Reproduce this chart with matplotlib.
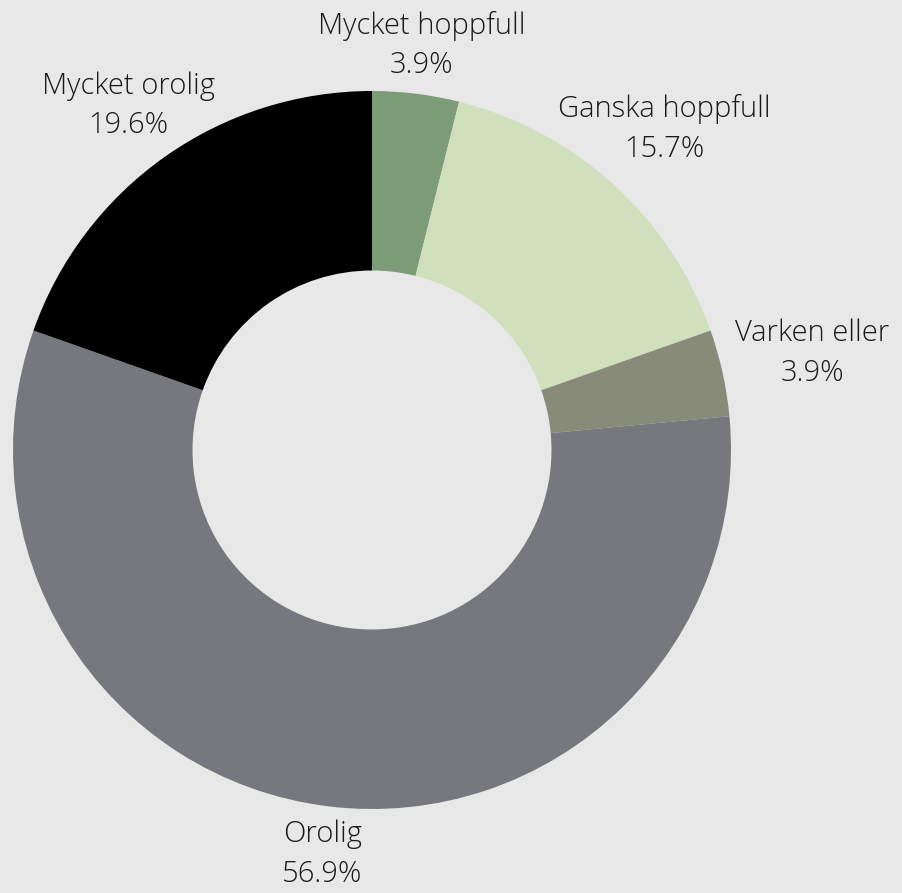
import numpy as np
import matplotlib.pyplot as plt

labels = ["Mycket hoppfull", "Ganska hoppfull", "Varken eller", "Orolig", "Mycket orolig"]
values = [3.9, 15.7, 3.9, 56.9, 19.6]
colors = ["#7c9c78", "#d0e0bc", "#878b78", "#76787d", "#000000"]
label_r = [1.135, 1.21, 1.255, 1.135, 1.175]

plt.rcParams['font.family'] = ['Open Sans', 'DejaVu Sans']

fig = plt.figure(figsize=(9.02, 8.93), dpi=100, facecolor="#e8e8e8")
ax = fig.add_axes([0, 0, 1, 1])
ax.set_facecolor("#e8e8e8")

wedges, _ = ax.pie(values, colors=colors, startangle=90, counterclock=False,
                   radius=1, wedgeprops=dict(width=0.5, linewidth=0))

for w, lab, v, r in zip(wedges, labels, values, label_r):
    ang = np.deg2rad((w.theta1 + w.theta2) / 2)
    ax.text(r * np.cos(ang), r * np.sin(ang), f"{lab}\n{v:.1f}%",
            ha="center", va="center", fontsize=21, linespacing=1.45,
            color="#1a1a1a", fontweight="light")

ax.set_xlim(-372 / 359, (902 - 372) / 359)
ax.set_ylim(-(893 - 450) / 359, 450 / 359)
ax.set_aspect("auto")
ax.axis("off")

fig.savefig("out.png", dpi=100, facecolor=fig.get_facecolor())
